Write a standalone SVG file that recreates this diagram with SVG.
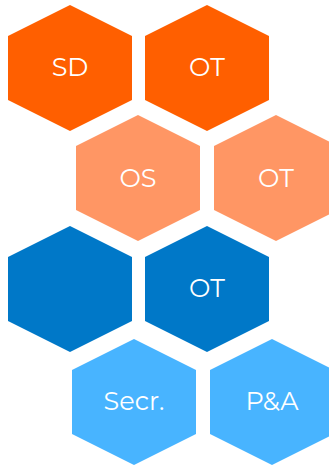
<svg xmlns="http://www.w3.org/2000/svg" width="329" height="465" viewBox="0 0 329 465">
<style>
text{font-family:"Montserrat","Inter","Noto Sans",sans-serif;font-size:25.5px;fill:#fff;text-anchor:middle}
.a{fill:#ff5f00}.b{fill:#ff9664}.c{fill:#0078c8}.d{fill:#48b4ff}
</style>
<rect width="329" height="465" fill="#fff"/>
<g id="n1"><polygon class="a" points="70,5 132,36 132,100 70,131 8,100 8,36"/><text x="70" y="76">SD</text></g>
<g id="n2"><polygon class="a" points="207,5 269,36 269,100 207,131 145,100 145,36"/><text x="207" y="76">OT</text></g>
<g id="n3"><polygon class="b" points="138,115 200,146 200,210 138,241 76,210 76,146"/><text x="138" y="186.500">OS</text></g>
<g id="n4"><polygon class="b" points="276,115 338,146 338,210 276,241 214,210 214,146"/><text x="276" y="186.500">OT</text></g>
<g id="n5"><polygon class="c" points="70,226 132,257 132,321 70,352 8,321 8,257"/></g>
<g id="n6"><polygon class="c" points="207,226 269,257 269,321 207,352 145,321 145,257"/><text x="207" y="297">OT</text></g>
<g id="n7"><polygon class="d" points="134,339 196,370 196,434 134,465 72,434 72,370"/><text x="134" y="410">Secr.</text></g>
<g id="n8"><polygon class="d" points="272,339 334,370 334,434 272,465 210,434 210,370"/><text x="272" y="410">P&amp;A</text></g>
</svg>
